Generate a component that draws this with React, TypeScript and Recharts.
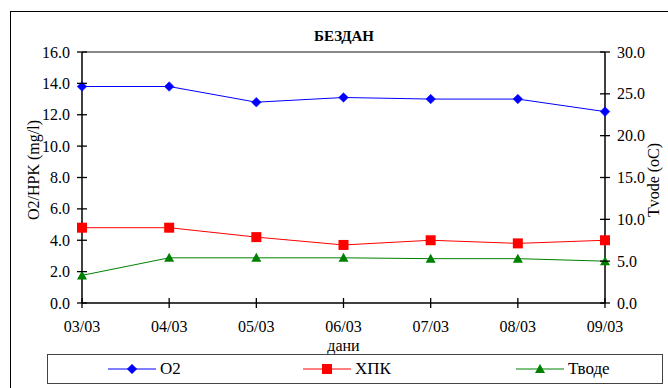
import React from 'react';
import { LineChart, Line, XAxis, YAxis, ReferenceLine, Legend } from 'recharts';

const days = ['03/03', '04/03', '05/03', '06/03', '07/03', '08/03', '09/03'];
const o2 = [13.8, 13.8, 12.8, 13.1, 13.0, 13.0, 12.2];
const hpk = [4.8, 4.8, 4.2, 3.7, 4.0, 3.8, 4.0];
const tvode = [3.3, 5.4, 5.4, 5.4, 5.3, 5.3, 5.0];
const leftTicks = [0, 2, 4, 6, 8, 10, 12, 14, 16];
const rightTicks = [0, 5, 10, 15, 20, 25, 30];

const title = 'БЕЗДАН';
const leftLabel = 'O2/HPK (mg/l)';
const rightLabel = 'Tvode (oC)';
const xLabel = 'дани';

const data = days.map((d, i) => ({ day: d, O2: o2[i], HPK: hpk[i], T: tvode[i] }));

const FONT = 'Liberation Serif, DejaVu Serif, serif';
const BLUE = '#0000ff';
const RED = '#ff0000';
const GREEN = '#008000';

const Diamond = (props: any) => {
  const { cx, cy, color, size = 4.8 } = props;
  if (cx == null || cy == null) return null;
  return <path d={`M${cx},${cy - size}L${cx + size},${cy}L${cx},${cy + size}L${cx - size},${cy}Z`} fill={color} stroke={color} strokeWidth={0.5} />;
};
const Square = (props: any) => {
  const { cx, cy, color, size = 5 } = props;
  if (cx == null || cy == null) return null;
  return <rect x={cx - size} y={cy - size} width={size * 2} height={size * 2} fill={color} />;
};
const Triangle = (props: any) => {
  const { cx, cy, color, size = 5 } = props;
  if (cx == null || cy == null) return null;
  return <path d={`M${cx},${cy - size}L${cx + size},${cy + size - 1}L${cx - size},${cy + size - 1}Z`} fill={color} />;
};

const LeftTick = (props: any) => {
  const { x, y, payload } = props;
  const ax = x + 9;
  return (
    <g>
      <line x1={ax - 5} x2={ax + 5} y1={y} y2={y} stroke="#000" strokeWidth={1.3} />
      <text x={ax - 12} y={y} dy="0.35em" textAnchor="end" style={{ fontFamily: FONT }} fontSize={16} fill="#000">
        {Number(payload.value).toFixed(1)}
      </text>
    </g>
  );
};
const RightTick = (props: any) => {
  const { x, y, payload } = props;
  const ax = x - 9;
  return (
    <g>
      <line x1={ax - 5} x2={ax + 5} y1={y} y2={y} stroke="#000" strokeWidth={1.3} />
      <text x={ax + 12} y={y} dy="0.35em" textAnchor="start" style={{ fontFamily: FONT }} fontSize={16} fill="#000">
        {Number(payload.value).toFixed(1)}
      </text>
    </g>
  );
};
const BottomTick = (props: any) => {
  const { x, y, payload } = props;
  const ay = y - 9;
  return (
    <g>
      <line x1={x} x2={x} y1={ay - 5} y2={ay + 5} stroke="#000" strokeWidth={1.3} />
      <text x={x} y={ay + 23} dy="0.35em" textAnchor="middle" style={{ fontFamily: FONT }} fontSize={16} fill="#000">
        {payload.value}
      </text>
    </g>
  );
};

const legendOrder = ['O2', 'HPK', 'T'];
const legendX = [60, 255, 468];
const LegendContent = (props: any) => {
  const { payload = [] } = props;
  const sorted = [...payload].sort((a: any, b: any) => legendOrder.indexOf(a.dataKey) - legendOrder.indexOf(b.dataKey));
  return (
    <div style={{ position: 'relative', width: 614, height: 28, border: '1.5px solid #444', background: '#fff' }}>
      {sorted.map((p: any, i: number) => {
        const key = p.dataKey;
        let marker: any = null;
        let color = BLUE;
        if (key === 'O2') { color = BLUE; marker = <Diamond cx={24} cy={14} color={BLUE} />; }
        else if (key === 'HPK') { color = RED; marker = <Square cx={24} cy={14} color={RED} />; }
        else { color = GREEN; marker = <Triangle cx={24} cy={14} color={GREEN} />; }
        return (
          <div key={i} style={{ position: 'absolute', left: legendX[i], top: 0, height: 28, display: 'flex', alignItems: 'center' }}>
            <svg width={48} height={28} style={{ display: 'block' }}>
              <line x1={0} x2={48} y1={14} y2={14} stroke={color} strokeWidth={1} />
              {marker}
            </svg>
            <span style={{ marginLeft: 4, fontFamily: FONT, fontSize: 17, color: '#000', whiteSpace: 'nowrap' }}>{p.value}</span>
          </div>
        );
      })}
    </div>
  );
};

export default function App() {
  return (
    <div style={{ position: 'absolute', left: 0, top: 0, width: 668, height: 388, overflow: 'hidden', background: '#fff', fontFamily: FONT }}>
      <div style={{ position: 'absolute', left: 10, top: 11, width: 700, height: 400, border: '1px solid #000' }} />
      <div style={{ position: 'absolute', left: 0, top: 28, width: 688, textAlign: 'center', fontFamily: FONT, fontWeight: 'bold', fontSize: 15 }}>
        {title}
      </div>
      <div style={{ position: 'absolute', left: 0, top: 0 }}>
        <LineChart width={668} height={388} data={data} margin={{ top: 52, right: 0, left: 0, bottom: 4 }}>
          <XAxis
            dataKey="day"
            height={50}
            padding={{ left: 0, right: 0 }}
            axisLine={{ stroke: '#000', strokeWidth: 1.5 }}
            tickLine={false}
            tickSize={5}
            tickMargin={4}
            tick={<BottomTick />}
            interval={0}
            label={(lp: any) => {
              const vb = lp.viewBox || {};
              return (
                <text x={vb.x + vb.width / 2} y={vb.y + 48} textAnchor="middle" style={{ fontFamily: FONT }} fontSize={16} fill="#000">
                  {xLabel}
                </text>
              );
            }}
          />
          <YAxis
            yAxisId="left"
            width={82}
            domain={[0, 16]}
            ticks={leftTicks}
            interval={0}
            axisLine={{ stroke: '#000', strokeWidth: 1.5 }}
            tickLine={false}
            tickSize={5}
            tickMargin={4}
            tick={<LeftTick />}
            label={() => (
              <text x={33} y={170} transform="rotate(-90 33 170)" textAnchor="middle" dy="0.35em" style={{ fontFamily: FONT }} fontSize={16} fill="#000">
                {leftLabel}
              </text>
            )}
          />
          <YAxis
            yAxisId="right"
            orientation="right"
            width={63}
            domain={[0, 30]}
            ticks={rightTicks}
            interval={0}
            axisLine={{ stroke: '#000', strokeWidth: 1.5 }}
            tickLine={false}
            tickSize={5}
            tickMargin={4}
            tick={<RightTick />}
            label={() => (
              <text x={653} y={180} transform="rotate(-90 653 180)" textAnchor="middle" dy="0.35em" style={{ fontFamily: FONT }} fontSize={16} fill="#000">
                {rightLabel}
              </text>
            )}
          />
          <ReferenceLine yAxisId="left" y={16} stroke="#888" strokeWidth={2} />
          <Line yAxisId="left" type="linear" dataKey="O2" name="O2" stroke={BLUE} strokeWidth={1} dot={(p: any) => <Diamond key={`d${p.index}`} cx={p.cx} cy={p.cy} color={BLUE} />} isAnimationActive={false} />
          <Line yAxisId="left" type="linear" dataKey="HPK" name="ХПК" stroke={RED} strokeWidth={1} dot={(p: any) => <Square key={`s${p.index}`} cx={p.cx} cy={p.cy} color={RED} />} isAnimationActive={false} />
          <Line yAxisId="right" type="linear" dataKey="T" name="Тводе" stroke={GREEN} strokeWidth={1} dot={(p: any) => <Triangle key={`t${p.index}`} cx={p.cx} cy={p.cy} color={GREEN} />} isAnimationActive={false} />
          <Legend
            content={<LegendContent />}
            wrapperStyle={{ position: 'absolute', left: 47, top: 354, width: 617, height: 31, bottom: 'auto' }}
          />
        </LineChart>
      </div>
    </div>
  );
}
